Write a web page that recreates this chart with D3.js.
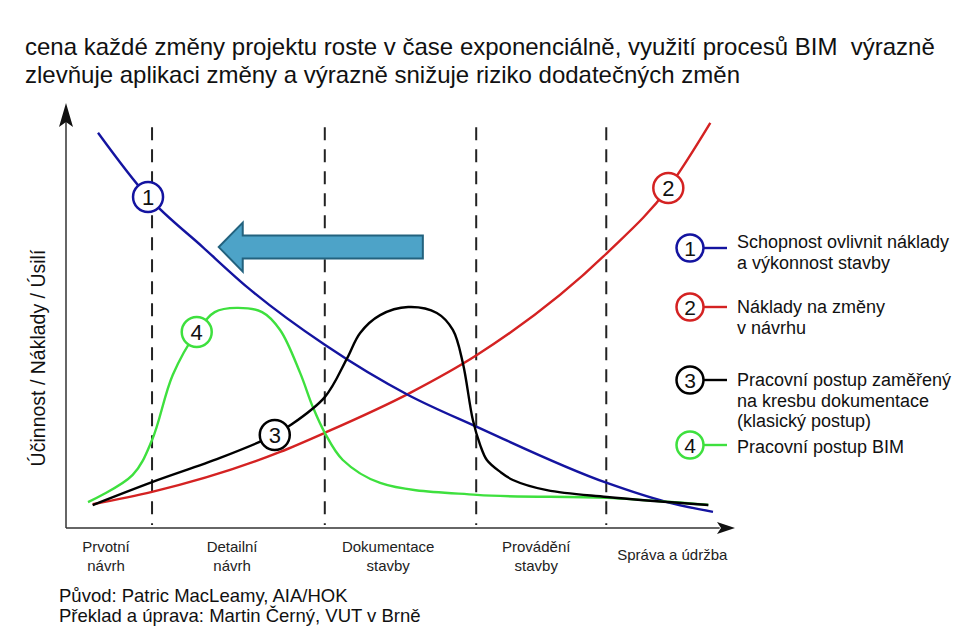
<!DOCTYPE html>
<html>
<head>
<meta charset="utf-8">
<script src="https://cdn.jsdelivr.net/npm/d3@7"></script>
<style>
  body { margin: 0; background: #fff; }
  svg { display: block; font-family: "Liberation Sans", Arial, sans-serif; }
</style>
</head>
<body>
<div id="chart"></div>
<script>
// time axis 0..100 (project life), value axis 0..100 (relative)
const phaseBounds = [12.9, 38.8, 61.5, 81.0];
const phaseLabels = [
  { x: 6.0, lines: ["Prvotní", "návrh"] },
  { x: 24.9, lines: ["Detailní", "návrh"] },
  { x: 48.3, lines: ["Dokumentace", "stavby"] },
  { x: 70.5, lines: ["Provádění", "stavby"] },
  { x: 90.9, lines: ["Správa a údržba"] }
];

const blueCurve = [[4.8, 93.0], [12.3, 77.9], [20.5, 66.1], [27.3, 56.5], [38.8, 43.1],
  [51.3, 31.3], [61.6, 23.8], [81.1, 10.6], [90.1, 6.1], [97.0, 3.8]];
const redCurve = [[4.0, 5.6], [12.9, 8.5], [32.1, 17.9], [38.8, 22.4], [51.6, 31.8],
  [61.6, 40.7], [81.1, 64.7], [90.3, 80.0], [96.6, 95.3]];
const blackCurve = [[4.0, 5.4], [12.9, 10.8], [23.1, 16.5], [31.3, 21.9], [33.3, 23.8],
  [38.8, 30.8], [42.1, 39.8], [44.1, 45.9], [47.1, 50.1], [51.3, 52.0], [55.6, 50.6],
  [58.0, 46.6], [59.5, 38.8], [61.0, 25.4], [62.1, 19.5], [63.1, 16.0], [65.1, 13.2],
  [67.0, 11.3], [72.1, 8.9], [81.1, 7.3], [96.3, 5.4]];
const greenCurve = [[3.3, 6.1], [10.0, 12.5], [12.9, 20.7], [16.0, 36.0], [19.6, 46.1],
  [22.3, 50.8], [25.6, 51.8], [29.4, 50.8], [32.1, 46.6], [35.1, 36.5], [37.0, 28.5],
  [38.8, 22.4], [41.5, 16.0], [47.1, 10.6], [61.6, 7.8], [81.1, 7.1], [96.3, 5.4]];

const smooth = d3.curveMonotoneX, wiggly = d3.curveCatmullRom.alpha(0.5);
const series = [
  { id: 1, color: "#1414a0", points: blueCurve, marker: [12.3, 77.9], curve: smooth },
  { id: 2, color: "#d42222", points: redCurve, marker: [90.3, 80.0], curve: smooth },
  { id: 3, color: "#000000", points: blackCurve, marker: [31.3, 21.9], curve: wiggly },
  { id: 4, color: "#3ee03e", points: greenCurve, marker: [19.6, 46.1], curve: wiggly }
];

const legendItems = [
  { id: 1, lines: ["Schopnost ovlivnit náklady", "a výkonnost stavby"] },
  { id: 2, lines: ["Náklady na změny", "v návrhu"] },
  { id: 3, lines: ["Pracovní postup zaměřený", "na kresbu dokumentace", "(klasický postup)"] },
  { id: 4, lines: ["Pracovní postup BIM"] }
];
const legendCircleY = [248, 307, 380, 445];
const legendTextY = [248, 313, 386, 453];

// shift arrow: from right end to tip, in data units
const shiftArrow = { from: 53.5, to: 22.9, y: 66.1 };

const titleLines = [
  "cena každé změny projektu roste v čase exponenciálně, využití procesů BIM  výrazně",
  "zlevňuje aplikaci změny a výrazně snižuje riziko dodatečných změn"
];
const sourceLines = ["Původ: Patric MacLeamy, AIA/HOK", "Překlad a úprava: Martin Černý, VUT v Brně"];

const width = 970, height = 628;
const svg = d3.select("#chart").append("svg").attr("width", width).attr("height", height);
svg.append("rect").attr("width", width).attr("height", height).attr("fill", "#fff");

const x = d3.scaleLinear().domain([0, 100]).range([66, 733]);
const y = d3.scaleLinear().domain([0, 100]).range([528, 103]);

// title
svg.append("g").selectAll("text").data(titleLines).join("text")
  .attr("x", 25).attr("y", (d, i) => 55 + i * 28)
  .attr("font-size", 24).attr("fill", "#111")
  .style("white-space", "pre")
  .text(d => d);

// phase separators
svg.append("g").selectAll("line").data(phaseBounds).join("line")
  .attr("x1", d => x(d)).attr("x2", d => x(d))
  .attr("y1", y(94.3)).attr("y2", y(0.7))
  .attr("stroke", "#222").attr("stroke-width", 2)
  .attr("stroke-dasharray", "13,9");

// axes
const axisColor = "#333";
svg.append("line").attr("x1", x(0)).attr("x2", x(0)).attr("y1", y(0)).attr("y2", y(96))
  .attr("stroke", axisColor).attr("stroke-width", 1.5);
svg.append("line").attr("x1", x(0)).attr("x2", x(98)).attr("y1", y(0)).attr("y2", y(0))
  .attr("stroke", axisColor).attr("stroke-width", 1.5);
// arrow heads
const yTip = [x(0), y(100)];
svg.append("path")
  .attr("d", `M${yTip[0]},${yTip[1]} L${yTip[0] + 7},${yTip[1] + 24} L${yTip[0]},${yTip[1] + 19} L${yTip[0] - 7},${yTip[1] + 24} Z`)
  .attr("fill", "#111");
const xTip = [x(100.3), y(0)];
svg.append("path")
  .attr("d", `M${xTip[0]},${xTip[1]} L${xTip[0] - 18},${xTip[1] + 6} L${xTip[0] - 14},${xTip[1]} L${xTip[0] - 18},${xTip[1] - 6} Z`)
  .attr("fill", "#111");

// y axis label
svg.append("text")
  .attr("transform", `translate(45, ${y(40)}) rotate(-90)`)
  .attr("text-anchor", "middle").attr("font-size", 19.5).attr("fill", "#111")
  .text("Účinnost / Náklady / Úsilí");

// phase labels
const pl = svg.append("g").selectAll("text").data(phaseLabels).join("text")
  .attr("text-anchor", "middle").attr("font-size", 15).attr("fill", "#222")
  .attr("y", d => d.lines.length === 1 ? 560 : 552);
pl.selectAll("tspan").data(d => d.lines.map(l => ({ l, x: d.x }))).join("tspan")
  .attr("x", d => x(d.x)).attr("dy", (d, i) => i === 0 ? 0 : 19)
  .text(d => d.l);

// big blue arrow
const sy = y(shiftArrow.y), sx0 = x(shiftArrow.from), sx1 = x(shiftArrow.to);
const arrowPts = [
  [sx0, sy - 11.5], [sx1 + 24, sy - 11.5], [sx1 + 24, sy - 24.5], [sx1, sy],
  [sx1 + 24, sy + 24.5], [sx1 + 24, sy + 11.5], [sx0, sy + 11.5]
];
svg.append("path").attr("d", d3.line()(arrowPts) + "Z")
  .attr("fill", "#4da3c8").attr("stroke", "#23627e").attr("stroke-width", 2);

// curves
const draw = [series[1], series[0], series[3], series[2]];
svg.append("g").selectAll("path").data(draw).join("path")
  .attr("d", d => d3.line().x(p => x(p[0])).y(p => y(p[1])).curve(d.curve)(d.points))
  .attr("fill", "none").attr("stroke", d => d.color).attr("stroke-width", 2.4);

// numbered markers on curves
const mk = svg.append("g").selectAll("g").data(series).join("g")
  .attr("transform", d => `translate(${x(d.marker[0])},${y(d.marker[1])})`);
mk.append("circle").attr("r", 15).attr("fill", "#fff")
  .attr("stroke", d => d.color).attr("stroke-width", 2.5);
mk.append("text").attr("text-anchor", "middle").attr("dy", 8)
  .attr("font-size", 22).attr("fill", "#111").text(d => d.id);

// legend
const lg = svg.append("g").selectAll("g").data(legendItems).join("g")
  .attr("transform", (d, i) => `translate(690, ${legendCircleY[i]})`);
lg.append("line").attr("x1", 13).attr("x2", 37).attr("y1", 0).attr("y2", 0)
  .attr("stroke", d => series[d.id - 1].color).attr("stroke-width", 2.4);
lg.append("circle").attr("r", 13.5).attr("fill", "#fff")
  .attr("stroke", d => series[d.id - 1].color).attr("stroke-width", 2.5);
lg.append("text").attr("text-anchor", "middle").attr("dy", 7.5)
  .attr("font-size", 21).attr("fill", "#111").text(d => d.id);
const lt = lg.append("text").attr("x", 47).attr("font-size", 18).attr("fill", "#111")
  .attr("y", (d, i) => legendTextY[i] - legendCircleY[i]);
lt.selectAll("tspan").data(d => d.lines).join("tspan")
  .attr("x", 47).attr("dy", (d, i) => i === 0 ? 0 : 20.5).text(d => d);

// source
svg.append("g").selectAll("text").data(sourceLines).join("text")
  .attr("x", 59).attr("y", (d, i) => 602 + i * 20)
  .attr("font-size", 18.5).attr("fill", "#111").text(d => d);
</script>
</body>
</html>
